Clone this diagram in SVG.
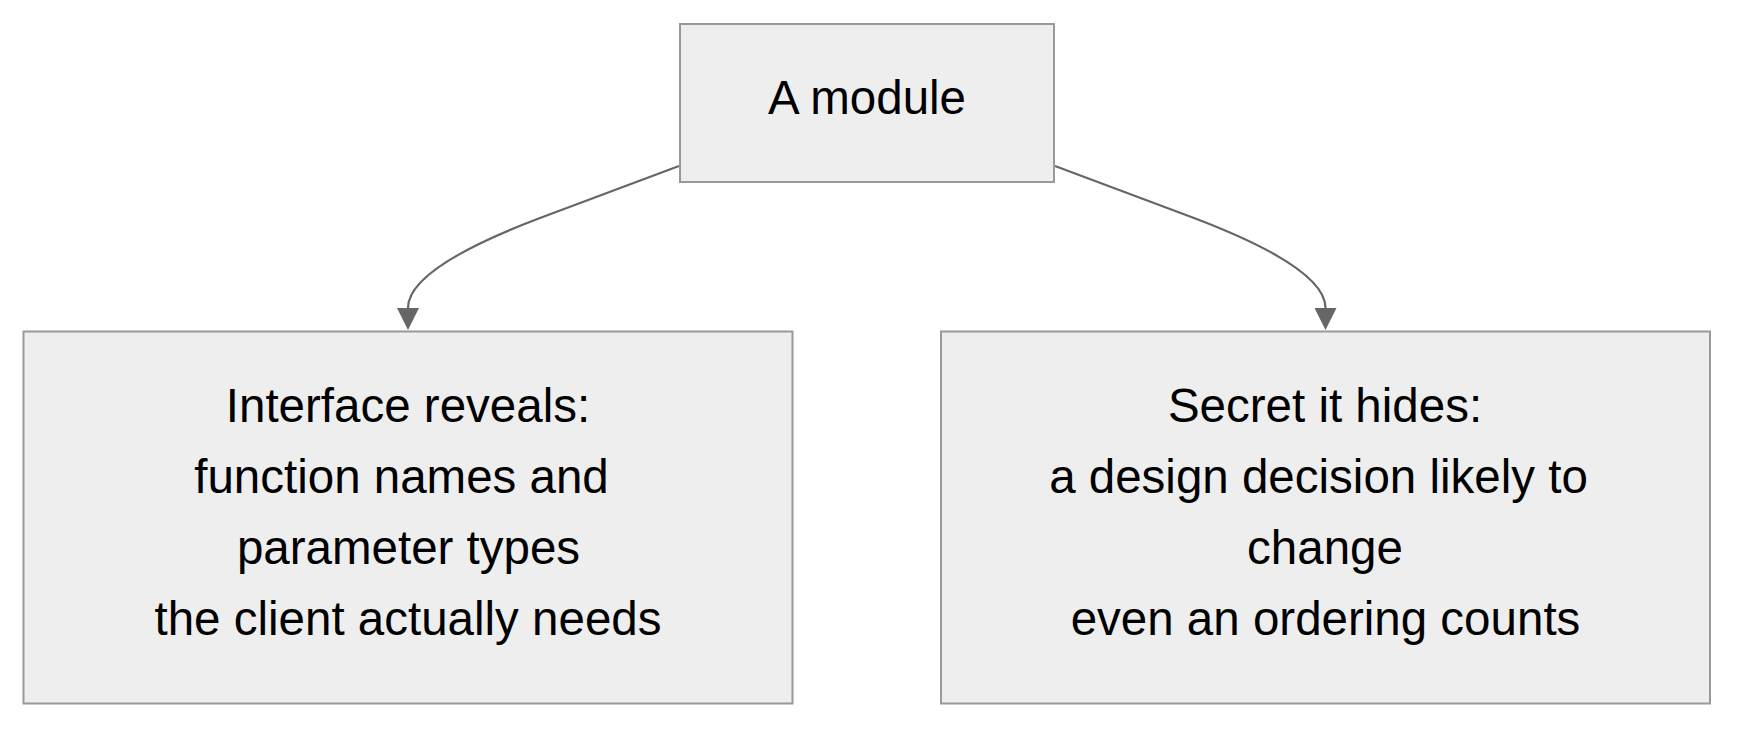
<svg xmlns="http://www.w3.org/2000/svg" width="1758" height="738" viewBox="0 0 1758 738">
<style>
.node rect{fill:#eeeeee;stroke:#999999;stroke-width:2}
.node text{font-family:"Liberation Sans",Arial,sans-serif;font-size:47.5px;fill:#000;text-anchor:middle}
.edge{fill:none;stroke:#666666;stroke-width:2.2}
</style>
<defs>
<marker id="arrow" markerUnits="userSpaceOnUse" viewBox="0 0 22 22" refX="0" refY="11" markerWidth="22" markerHeight="22" orient="auto">
<path d="M0,0 L22,11 L0,22 z" fill="#666666"/>
</marker>
</defs>
<rect width="1758" height="738" fill="#ffffff"/>
<g id="connectors">
<path class="edge" d="M679,166 L540,218 Q408,268 408,308" marker-end="url(#arrow)"/>
<path class="edge" d="M1055,166 L1194,218 Q1325.5,268 1325.5,308" marker-end="url(#arrow)"/>
</g>
<g id="module" class="node">
<rect x="680" y="24" width="374" height="158"/>
<text x="867" y="114">A module</text>
</g>
<g id="interface" class="node">
<rect x="23.5" y="331.5" width="769" height="372"/>
<text x="408" y="422">Interface reveals:</text>
<text x="401.5" y="493">function names and</text>
<text x="408.5" y="564">parameter types</text>
<text x="408" y="635">the client actually needs</text>
</g>
<g id="secret" class="node">
<rect x="941" y="331.5" width="769" height="372"/>
<text x="1325" y="422">Secret it hides:</text>
<text x="1318.5" y="493">a design decision likely to</text>
<text x="1325" y="564">change</text>
<text x="1325.5" y="635">even an ordering counts</text>
</g>
</svg>
